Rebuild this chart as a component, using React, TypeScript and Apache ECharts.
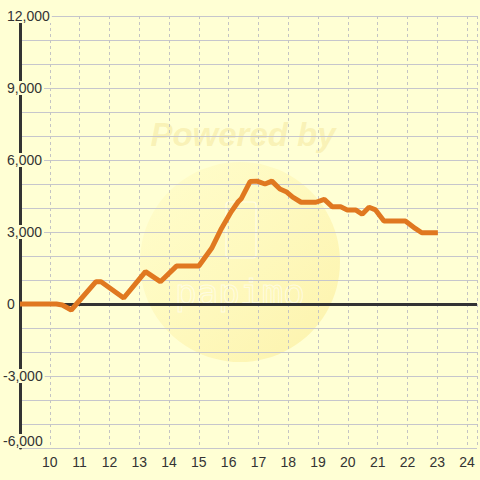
import React, { useEffect, useRef } from "react";
import * as echarts from "echarts";

const hours = [9, 10.22, 10.42, 10.72, 11.55, 11.72, 12.48, 13.21, 13.71, 14.25, 15.0, 15.43, 15.76, 16.09, 16.32, 16.43, 16.72, 16.95, 17.22, 17.45, 17.72, 17.93, 18.15, 18.43, 18.93, 19.21, 19.48, 19.76, 19.98, 20.26, 20.48, 20.71, 20.93, 21.21, 21.93, 22.26, 22.48, 23.02];
const values = [0, 0, -40, -250, 930, 930, 250, 1350, 930, 1580, 1580, 2320, 3150, 3850, 4260, 4400, 5100, 5120, 5000, 5120, 4790, 4680, 4450, 4240, 4240, 4360, 4050, 4050, 3920, 3920, 3740, 4030, 3920, 3460, 3460, 3150, 2970, 2970];

const xMin = 9;
const xMax = 24.333;
const yMin = -6000;
const yMax = 12000;
const yLabelStep = 3000;
const watermarkText = "Powered by";
const watermarkLogo = "papimo";

const BG = "#ffffd4";
const FONT = "'Liberation Sans', Arial, sans-serif";

export default function App() {
  const ref = useRef<HTMLDivElement>(null);
  useEffect(() => {
    if (!ref.current) return;
    const chart = echarts.init(ref.current, undefined, { renderer: "svg" });
    chart.setOption({
      animation: false,
      backgroundColor: BG,
      textStyle: { fontFamily: FONT },
      grid: { left: 20, right: 0, top: 16, bottom: 32, containLabel: false },
      graphic: [
        {
          type: "circle",
          silent: true,
          z: -1,
          shape: { cx: 240, cy: 262, r: 100 },
          style: {
            fill: new echarts.graphic.LinearGradient(0, 0, 1, 1, [
              { offset: 0, color: "rgba(255,238,140,0.12)" },
              { offset: 1, color: "rgba(248,222,105,0.38)" },
            ]),
          },
        },
        {
          type: "rect",
          silent: true,
          z: -1,
          shape: { x: 226, y: 202, width: 30, height: 56, r: 3 },
          style: { fill: "none", stroke: "rgba(255,255,255,0.6)", lineWidth: 1.2 },
        },
        {
          type: "text",
          silent: true,
          z: -1,
          x: 240,
          y: 292,
          style: {
            text: watermarkLogo,
            font: "36px 'DejaVu Sans Mono', monospace",
            fill: "none",
            stroke: "rgba(255,255,255,0.55)",
            lineWidth: 1,
            align: "center",
            verticalAlign: "middle",
          },
        },
        {
          type: "text",
          silent: true,
          z: -1,
          x: 243,
          y: 134,
          style: {
            text: watermarkText,
            font: "italic bold 33px 'Liberation Sans', Arial, sans-serif",
            fill: "rgba(238,215,120,0.32)",
            align: "center",
            verticalAlign: "middle",
          },
        },
      ],
      xAxis: {
        type: "value",
        min: xMin,
        max: xMax,
        interval: 1,
        axisLine: { show: false, onZero: false },
        axisTick: { show: false },
        axisLabel: {
          color: "#333",
          fontSize: 14,
          fontFamily: FONT,
          margin: 7,
          formatter: (v: number) => (Number.isInteger(v) && v > xMin ? String(v) : ""),
        },
        splitLine: { show: true, lineStyle: { color: "#c4c4c4", type: [3, 3], width: 1 } },
      },
      yAxis: [
        {
          type: "value",
          min: yMin,
          max: yMax,
          interval: 1000,
          z: 0,
          axisLine: { show: true, onZero: false, lineStyle: { color: "#333", width: 3 } },
          axisTick: { show: false },
          axisLabel: { show: false },
          splitLine: { show: true, lineStyle: { color: "#c6c6cc", width: 1 } },
        },
        {
          type: "value",
          position: "left",
          offset: 0,
          min: yMin,
          max: yMax,
          interval: 1000,
          z: 5,
          axisLine: { show: false },
          axisTick: { show: false },
          splitLine: { show: false },
          axisLabel: {
            color: "#333",
            fontSize: 14,
            fontFamily: FONT,
            align: "left",
            margin: 17,
            backgroundColor: BG,
            padding: [0, 2, 0, 0],
            verticalAlignMinLabel: "bottom",
            formatter: (v: number) => {
              if (v % yLabelStep !== 0) return "";
              const s = v.toLocaleString("en-US");
              return v < 0 ? "{t|" + s + "}" : "{s| }{t|" + s + "}";
            },
            rich: {
              s: { width: 4, fontSize: 14, fontFamily: FONT },
              t: { color: "#333", fontSize: 14, fontFamily: FONT },
            },
          },
        },
      ],
      series: [
        {
          type: "line",
          yAxisIndex: 0,
          data: hours.map((h, i) => [h, values[i]]),
          showSymbol: false,
          symbol: "none",
          lineStyle: { color: "#e07820", width: 5 },
          itemStyle: { color: "#e07820" },
          z: 3,
          markLine: {
            silent: true,
            symbol: "none",
            z: 1,
            label: { show: false },
            lineStyle: { color: "#333", width: 3, type: "solid" },
            data: [{ yAxis: 0 }],
          },
        },
      ],
    });
    return () => chart.dispose();
  }, []);
  return (
    <div
      ref={ref}
      style={{ position: "fixed", left: 0, top: 0, width: 480, height: 480 }}
    />
  );
}
